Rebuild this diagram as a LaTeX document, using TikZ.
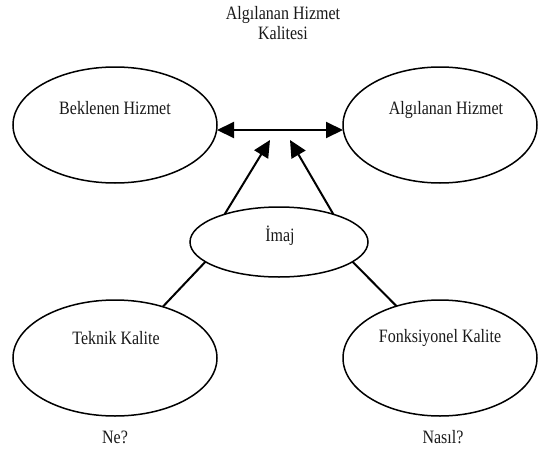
\documentclass[tikz,border=0pt]{standalone}
\usepackage{fontspec}
\usepackage{graphicx}
\setmainfont{Liberation Serif}
\usetikzlibrary{shapes.geometric,arrows.meta}
\newcommand{\stx}[1]{\scalebox{1}[1.18]{#1}}
\begin{document}
\begin{tikzpicture}[x=1pt,y=-1pt,
  oval/.style={draw=black, line width=1.5pt, shape=ellipse, inner sep=0pt, outer sep=0pt},
  lbl/.style={inner sep=0pt, font=\fontsize{16}{19}\selectfont, text=black!90},
  conn/.style={draw=black, line width=2pt},
  tip/.style={-{Triangle[length=17pt,width=16pt]}}]
\useasboundingbox[fill=white] (0,0) rectangle (538,450);
% ellipses
\node[oval, minimum width=204pt, minimum height=116pt] (bek) at (115,125) {};
\node[oval, minimum width=194pt, minimum height=116pt] (alg) at (440,125) {};
\node[oval, minimum width=178pt, minimum height=70pt] (imaj) at (279,242) {};
\node[oval, minimum width=204pt, minimum height=116pt] (tek) at (115,358) {};
\node[oval, minimum width=194pt, minimum height=116pt] (fonk) at (440,358) {};
% texts
\node[lbl, align=center] (title) at (283,23) {\stx{Algılanan Hizmet}\\[1pt]\stx{Kalitesi}};
\node[lbl] (tbek) at (115,108) {\stx{Beklenen Hizmet}};
\node[lbl] (talg) at (446,110) {\stx{Algılanan Hizmet}};
\node[lbl] (timaj) at (280,236) {\stx{İmaj}};
\node[lbl] (ttek) at (116,338) {\stx{Teknik Kalite}};
\node[lbl] (tfonk) at (440,338) {\stx{Fonksiyonel Kalite}};
\node[lbl] (ne) at (115,437) {\stx{Ne?}};
\node[lbl] (nasil) at (443,437) {\stx{Nasıl?}};
% connectors
\coordinate (t1) at (270,140);
\coordinate (t2) at (290,140);
\draw[conn, {Triangle[length=17pt,width=16pt]}-{Triangle[length=17pt,width=16pt]}]
  ([yshift=-5pt]bek.east) -- ([yshift=-5pt]alg.west);
\draw[conn, tip] (imaj.153) -- (t1);
\draw[conn, tip] (imaj.27) -- (t2);
\draw[conn] (imaj.195) -- (tek.47);
\draw[conn] (imaj.-15) -- (fonk.130);
\end{tikzpicture}
\end{document}
